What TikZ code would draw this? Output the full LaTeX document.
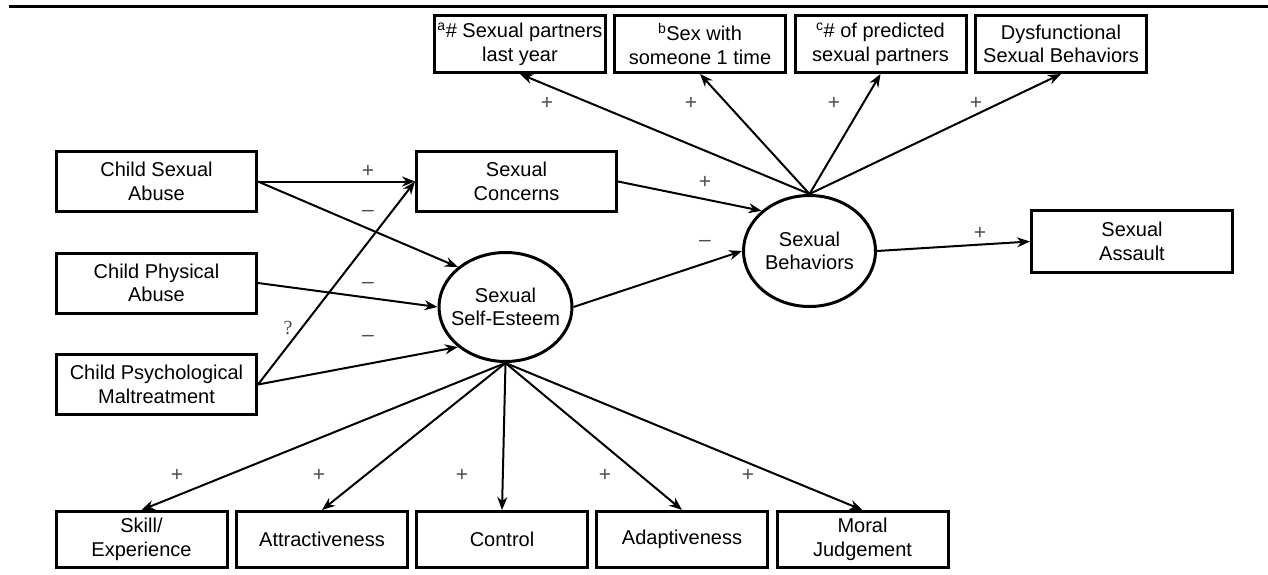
\documentclass[tikz,border=0pt]{standalone}
\usepackage{fontspec}
\setmainfont{Liberation Sans}
\newfontfamily\serifsign{Liberation Serif}
\usetikzlibrary{arrows.meta,shapes.geometric}

\begin{document}
\begin{tikzpicture}[
  x=1pt, y=-1pt,
  >={Stealth[length=13pt,width=10pt]},
  box/.style={draw, line width=3pt, align=center, inner sep=2pt,
    font=\fontsize{20}{23.5}\selectfont},
  topbox/.style={box, minimum width=171pt, minimum height=57pt},
  srcbox/.style={box, minimum width=200pt, minimum height=60pt},
  lowbox/.style={box, minimum width=171pt, minimum height=56pt},
  latent/.style={ellipse, draw, line width=3pt, align=center,
    inner xsep=-12pt, inner ysep=0pt, font=\fontsize{20}{23.5}\selectfont},
  arr/.style={->, line width=2pt},
  sign/.style={font=\fontsize{21}{21}\selectfont, text=black!70, inner sep=0pt}
]
\useasboundingbox (0,0) rectangle (1268,575);
\draw[line width=3pt] (9,7) -- (1268,7);

% Indicators of sexual behaviors
\node[topbox] (T1) at (520,44)    {\textsuperscript{a}\# Sexual partners\\last year};
\node[topbox] (T2) at (700,44)    {\textsuperscript{b}Sex with\\someone 1 time};
\node[topbox] (T3) at (880.5,44)  {\textsuperscript{c}\# of predicted\\sexual partners};
\node[topbox] (T4) at (1061,44)   {Dysfunctional\\Sexual Behaviors};

% Maltreatment and mediators
\node[srcbox] (CSA) at (156.5,181.5) {Child Sexual\\Abuse};
\node[srcbox] (CPA) at (156.5,283)   {Child Physical\\Abuse};
\node[srcbox] (CPM) at (156.5,384.5) {Child Psychological\\Maltreatment};
\node[srcbox] (SC)  at (516.5,181.5) {Sexual\\Concerns};
\node[srcbox, minimum width=201pt, minimum height=62pt] (SA) at (1132,241.5) {Sexual\\Assault};

\node[latent, minimum width=133pt, minimum height=109pt] (SSE) at (505.5,307) {Sexual\\Self-Esteem};
\node[latent, minimum width=132pt, minimum height=111pt] (SB)  at (809.5,251) {Sexual\\Behaviors};

% Indicators of sexual self-esteem
\node[lowbox] (B1) at (141.5,539.5) {Skill/\\Experience};
\node[lowbox] (B2) at (322,539.5)   {Attractiveness};
\node[lowbox] (B3) at (502,539.5)   {Control};
\node[lowbox] (B4) at (682,539.5)   {Adaptiveness};
\node[lowbox] (B5) at (862.5,539.5) {Moral\\Judgement};

% Paths
\draw[arr] (CSA.east) -- (SC.west);
\draw[arr] (CSA.east) -- (SSE.140);
\draw[arr] (CPA.east) -- (SSE.west);
\draw[arr] (CPM.east) -- (SSE.220);
\draw[arr] (CPM.east) -- (SC.west);
\draw[arr] (SC.east) -- (SB.140);
\draw[arr] (SSE.east) -- (SB.west);
\draw[arr] (SB.east) -- (SA.west);
\foreach \t in {T1,T2,T3,T4}
  \draw[arr] (SB.north) -- (\t.south);
\foreach \b in {B1,B2,B3,B4,B5}
  \draw[arr] (SSE.south) -- (\b.north);

% Signs
\node[sign] (s1) at (368,171) {+};
\node[sign] (s2) at (368,213) {--};
\node[sign] (s3) at (368,285) {--};
\node[sign] (s4) at (368,338) {--};
\node[sign, font=\serifsign\fontsize{20}{20}\selectfont] (s5) at (288,328) {?};
\node[sign] (s6) at (705,182) {+};
\node[sign] (s7) at (705,243) {--};
\node[sign] (s8) at (980,233) {+};
\foreach \x [count=\i] in {547,691,834,976}
  \node[sign] (u\i) at (\x,103) {+};
\foreach \x [count=\i] in {177,319,462,605,748}
  \node[sign] (d\i) at (\x,475) {+};
\end{tikzpicture}
\end{document}
